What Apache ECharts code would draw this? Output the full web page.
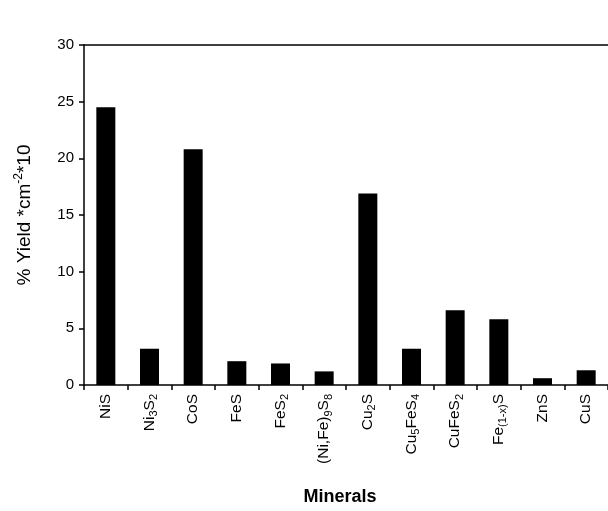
<!DOCTYPE html>
<html><head><meta charset="utf-8">
<script src="https://cdn.jsdelivr.net/npm/echarts@6/dist/echarts.min.js"></script>
<style>html,body{margin:0;padding:0;background:#fff}#c{width:608px;height:511px}</style>
</head><body><div id="c"></div>
<script>
const categories = ['NiS', 'Ni{sub|3}S{sub|2}', 'CoS', 'FeS', 'FeS{sub|2}', '(Ni,Fe){sub|9}S{sub|8}', 'Cu{sub|2}S', 'Cu{sub|5}FeS{sub|4}', 'CuFeS{sub|2}', 'Fe{sub|(1-x)}S', 'ZnS', 'CuS'];
const yieldValues = [24.5, 3.2, 20.8, 2.1, 1.9, 1.2, 16.9, 3.2, 6.6, 5.8, 0.6, 1.3];
const yTicks = [0, 5, 10, 15, 20, 25, 30];

const chart = echarts.init(document.getElementById('c'), null, {renderer: 'canvas'});
const font = 'Liberation Sans, Arial, sans-serif';
chart.setOption({
  animation: false,
  backgroundColor: '#fff',
  grid: {left: 84, top: 45, bottom: 120, right: -2, containLabel: false},
  xAxis: [{
    type: 'category',
    data: categories,
    axisLine: {lineStyle: {color: '#000', width: 1.5}},
    axisTick: {show: true, length: 5, lineStyle: {color: '#000', width: 1.5}},
    axisLabel: {
      rotate: 90, margin: 9, color: '#000', fontFamily: font, fontSize: 15.5,
      rich: {
        sub: {fontSize: 11, fontFamily: font, color: '#000', verticalAlign: 'bottom', lineHeight: 20}
      }
    },
    name: 'Minerals', nameLocation: 'middle', nameGap: 103,
    nameTextStyle: {color: '#000', fontFamily: font, fontSize: 18, fontWeight: 'bold', padding: [0, 12, 0, 0]}
  }, {
    type: 'category', position: 'top', data: categories,
    axisLine: {show: true, lineStyle: {color: '#000', width: 1.5}},
    axisTick: {show: false}, axisLabel: {show: false}
  }],
  yAxis: {
    type: 'value', min: 0, max: 30, interval: 5,
    axisLine: {show: true, lineStyle: {color: '#000', width: 1.5}},
    axisTick: {show: true, length: 5, lineStyle: {color: '#000', width: 1.5}},
    splitLine: {show: false},
    axisLabel: {color: '#000', fontFamily: font, fontSize: 15, margin: 10,
      formatter: v => yTicks.includes(v) ? String(v) : ''},
    name: '% Yield *cm{sup|-2}*10', nameLocation: 'middle', nameGap: 47, nameRotate: 90,
    nameTextStyle: {color: '#000', fontFamily: font, fontSize: 19,
      rich: {sup: {fontSize: 12, fontFamily: font, color: '#000', verticalAlign: 'top', lineHeight: 24}}}
  },
  series: [{
    type: 'bar', data: yieldValues, barWidth: 19,
    itemStyle: {color: '#000'}
  }]
});
</script></body></html>
